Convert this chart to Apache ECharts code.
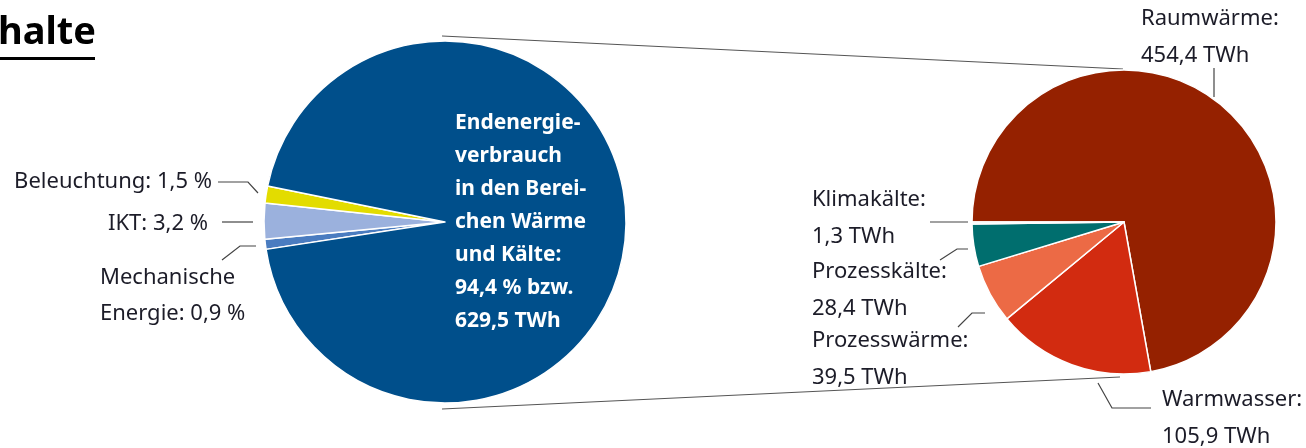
<!DOCTYPE html>
<html>
<head>
<meta charset="utf-8">
<script src="https://cdn.jsdelivr.net/npm/echarts@6/dist/echarts.min.js"></script>
<style>
  html, body { margin: 0; padding: 0; background: #fff; }
  #main { width: 1306px; height: 448px; }
</style>
</head>
<body>
<div id="main"></div>
<script>
// Anteile am Endenergieverbrauch (links, in %)
var leftNames = ['Mechanische Energie', 'IKT', 'Beleuchtung', 'Wärme und Kälte']
var leftValues = [0.9, 3.2, 1.5, 94.4]
var leftColors = ['#4a7cc0', '#9bb1dd', '#e3dc00', '#004f8b']

// Wärme und Kälte aufgeteilt (rechts, in TWh)
var rightNames = ['Raumwärme', 'Warmwasser', 'Prozesswärme', 'Prozesskälte', 'Klimakälte']
var rightValues = [454.4, 105.9, 39.5, 28.4, 1.3]
var rightColors = ['#952100', '#d22b10', '#ec6a45', '#006e6e', '#e4eeee']

var fmt = function (v, d) { return v.toFixed(d).replace('.', ',') }

var leftCenter = [445, 222], leftR = 181
var rightCenter = [1124, 222], rightR = 152

// Beschriftungen: Lage der Texte und Führungslinien
var leftSpots = [
  { x: 100, y: 296, align: 'left', line: [[256, 246], [240, 246], [222, 260]] },
  { x: 208, y: 224, align: 'right', line: [[253, 222], [222, 222]] },
  { x: 212, y: 182, align: 'right', line: [[258, 193], [248, 182], [218, 182]] },
  { x: 455, y: 222, align: 'left' }
]
var rightSpots = [
  { x: 1141, y: 37, align: 'left', line: [[1214, 97], [1214, 68]] },
  { x: 1162, y: 418, align: 'left', line: [[1098, 383], [1112, 408], [1151, 408]] },
  { x: 812, y: 359, align: 'left', line: [[985, 313], [972, 313], [958, 327]] },
  { x: 812, y: 290, align: 'left', line: [[968, 249], [957, 249], [940, 260]] },
  { x: 812, y: 218, align: 'left', line: [[968, 222], [930, 222]] }
]

function layoutFrom(spots) {
  return function (params) {
    var s = spots[params.dataIndex]
    var out = { x: s.x, y: s.y, align: s.align, verticalAlign: 'middle' }
    if (s.line) out.labelLinePoints = s.line
    return out
  }
}

var textStyle = { fontFamily: 'Noto Sans', fontSize: 22, color: '#1c1c28', lineHeight: 37 }

var leftData = leftNames.map(function (n, i) {
  var item = { name: n, value: leftValues[i], itemStyle: { color: leftColors[i] } }
  if (i === 0) {
    item.label = { formatter: 'Mechanische\nEnergie: ' + fmt(leftValues[i], 1) + ' %', lineHeight: 36 }
  } else if (i === 3) {
    item.label = {
      formatter: 'Endenergie-\nverbrauch\nin den Berei-\nchen Wärme\nund Kälte:\n' +
        fmt(leftValues[i], 1) + ' % bzw.\n629,5 TWh',
      color: '#fff', fontWeight: 'bold', fontSize: 21, lineHeight: 33
    }
    item.labelLine = { show: false }
  } else {
    item.label = { formatter: n + ': ' + fmt(leftValues[i], 1) + ' %' }
  }
  return item
})

var rightData = rightNames.map(function (n, i) {
  return {
    name: n, value: rightValues[i], itemStyle: { color: rightColors[i] },
    label: { formatter: n + ':\n' + fmt(rightValues[i], 1) + ' TWh' }
  }
})

var myChart = echarts.init(document.getElementById('main'))

var option = {
  animation: false,
  backgroundColor: '#fff',
  graphic: [
    { type: 'text', right: 1306 - 96, top: 14,
      style: { text: 'Inhalte', fill: '#000', font: 'bold 38px "Noto Sans"', textAlign: 'right' } },
    { type: 'rect', shape: { x: 0, y: 57, width: 95, height: 3 }, style: { fill: '#000' } },
    { type: 'line', shape: { x1: 442, y1: 36, x2: 1123, y2: 69 },
      style: { stroke: '#555', lineWidth: 1.2 }, z: -1 },
    { type: 'line', shape: { x1: 442, y1: 409, x2: 1120, y2: 377 },
      style: { stroke: '#555', lineWidth: 1.2 }, z: -1 }
  ],
  series: [
    {
      type: 'pie',
      center: leftCenter,
      radius: leftR,
      startAngle: 188.7,
      clockwise: true,
      label: Object.assign({ show: true, position: 'outside', width: 260, overflow: 'none' }, textStyle),
      labelLine: { show: true, lineStyle: { color: '#444', width: 1.2 } },
      labelLayout: layoutFrom(leftSpots),
      itemStyle: { borderColor: '#fff', borderWidth: 1.5 },
      emphasis: { disabled: true },
      data: leftData
    },
    {
      type: 'pie',
      center: rightCenter,
      radius: rightR,
      startAngle: 180,
      clockwise: true,
      label: Object.assign({ show: true, position: 'outside', width: 200, overflow: 'none' }, textStyle),
      labelLine: { show: true, lineStyle: { color: '#444', width: 1.2 } },
      labelLayout: layoutFrom(rightSpots),
      itemStyle: { borderColor: '#fff', borderWidth: 1.5 },
      emphasis: { disabled: true },
      data: rightData
    }
  ]
}

myChart.setOption(option)
</script>
</body>
</html>
